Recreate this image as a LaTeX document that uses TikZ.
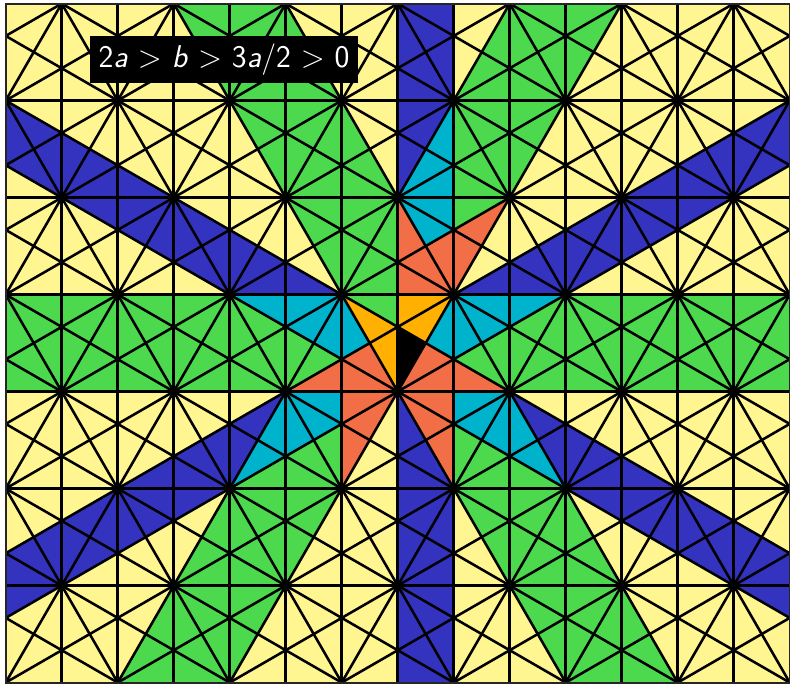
\documentclass[tikz,border=0pt]{standalone}
\usepackage{fontspec}
\usepackage{tikz}
\definecolor{cellyellow}{RGB}{255,245,145}
\definecolor{cellgreen}{RGB}{77,217,77}
\definecolor{cellblue}{RGB}{51,51,191}
\definecolor{cellcyan}{RGB}{0,179,204}
\definecolor{cellred}{RGB}{242,110,70}
\definecolor{cellorange}{RGB}{255,176,0}
\tikzset{
  celledge/.style={black, line width=1.3pt},
  cellframe/.style={draw=black!85, line width=1pt},
  celltag/.style={fill=black, text=white, inner sep=0pt,
    minimum width=4.78cm, minimum height=0.85cm,
    font=\sffamily\fontsize{16}{19}\selectfont},
}

\begin{document}
\begin{tikzpicture}[x=1cm, y=1.7320508cm]
  \useasboundingbox (-7.102,-3.024) rectangle (7.005,4.037);
  \begin{scope}
  \clip (-7,-3) rectangle (7,4);
  \fill[cellyellow] (-7,-3) rectangle (7,4);
  % blue strips and bands
  \fill[cellblue] (0,4) -- (1,4) -- (1,3) -- (0,2) -- cycle;
  \fill[cellblue] (0,0) -- (1,-1) -- (1,-3) -- (0,-3) -- cycle;
  \fill[cellblue] (-7,3) -- (-1,1) -- (-3,1) -- (-7,7/3) -- cycle;
  \fill[cellblue] (7,3) -- (1,1) -- (3,1) -- (7,7/3) -- cycle;
  \fill[cellblue] (-7,-5/3) -- (-2,0) -- (-3,-1) -- (-7,-7/3) -- cycle;
  \fill[cellblue] (7,-5/3) -- (2,0) -- (3,-1) -- (7,-7/3) -- cycle;
  % green wedges and bands
  \fill[cellgreen] (-4,4) -- (-2,4) -- (0,2) -- (0,2/3) -- (-1,1) -- cycle;
  \fill[cellgreen] (2,4) -- (4,4) -- (2,2) -- (1,5/3) -- (1,3) -- cycle;
  \fill[cellgreen] (-7,1) -- (-3,1) -- (-2,2/3) -- (-1,1/3) -- (-2,0) -- (-7,0) -- cycle;
  \fill[cellgreen] (7,1) -- (3,1) -- (2,2/3) -- (1,1/3) -- (2,0) -- (7,0) -- cycle;
  \fill[cellgreen] (-3,-1) -- (-1,-1/3) -- (-1,-1) -- (-3,-3) -- (-5,-3) -- cycle;
  \fill[cellgreen] (3,-1) -- (1,-1/3) -- (1,-1) -- (3,-3) -- (5,-3) -- cycle;
  % cyan
  \fill[cellcyan] (0,2) -- (1,3) -- (1,5/3) -- (0.5,1.5) -- cycle;
  \fill[cellcyan] (-3,1) -- (-1,1) -- (-0.5,0.5) -- (-1,1/3) -- (-2,2/3) -- cycle;
  \fill[cellcyan] (3,1) -- (1,1) -- (0.5,0.5) -- (1,1/3) -- (2,2/3) -- cycle;
  \fill[cellcyan] (-2,0) -- (-1,0) -- (-1,-1/3) -- (-3,-1) -- cycle;
  \fill[cellcyan] (2,0) -- (1,0) -- (1,-1/3) -- (3,-1) -- cycle;
  % red
  \fill[cellred] (0,2) -- (0.5,1.5) -- (2,2) -- (1,1) -- (0,1) -- cycle;
  \fill[cellred] (-2,0) -- (-0.5,0.5) -- (0,0) -- cycle;
  \fill[cellred] (0,0) -- (0.5,0.5) -- (2,0) -- cycle;
  \fill[cellred] (-1,0) -- (0,0) -- (-1,-1) -- cycle;
  \fill[cellred] (0,0) -- (1,0) -- (1,-1) -- cycle;
  % orange and the black alcove
  \fill[cellorange] (-1,1) -- (0,2/3) -- (0,0) -- cycle;
  \fill[cellorange] (0,1) -- (1,1) -- (0.5,0.5) -- (0,2/3) -- cycle;
  \fill[black] (0,0) -- (0,2/3) -- (0.5,0.5) -- cycle;
  % vertical walls
  \draw[celledge] (-6,-3) -- (-6,4);
  \draw[celledge] (-5,-3) -- (-5,4);
  \draw[celledge] (-4,-3) -- (-4,4);
  \draw[celledge] (-3,-3) -- (-3,4);
  \draw[celledge] (-2,-3) -- (-2,4);
  \draw[celledge] (-1,-3) -- (-1,4);
  \draw[celledge] (0,-3) -- (0,4);
  \draw[celledge] (1,-3) -- (1,4);
  \draw[celledge] (2,-3) -- (2,4);
  \draw[celledge] (3,-3) -- (3,4);
  \draw[celledge] (4,-3) -- (4,4);
  \draw[celledge] (5,-3) -- (5,4);
  \draw[celledge] (6,-3) -- (6,4);
  % horizontal walls
  \draw[celledge] (-7,-2) -- (7,-2);
  \draw[celledge] (-7,-1) -- (7,-1);
  \draw[celledge] (-7,0) -- (7,0);
  \draw[celledge] (-7,1) -- (7,1);
  \draw[celledge] (-7,2) -- (7,2);
  \draw[celledge] (-7,3) -- (7,3);
  % steep walls
  \draw[celledge] (-13,-3) -- (-6,4);
  \draw[celledge] (-11,-3) -- (-4,4);
  \draw[celledge] (-9,-3) -- (-2,4);
  \draw[celledge] (-7,-3) -- (0,4);
  \draw[celledge] (-5,-3) -- (2,4);
  \draw[celledge] (-3,-3) -- (4,4);
  \draw[celledge] (-1,-3) -- (6,4);
  \draw[celledge] (1,-3) -- (8,4);
  \draw[celledge] (3,-3) -- (10,4);
  \draw[celledge] (5,-3) -- (12,4);
  \draw[celledge] (-5,-3) -- (-12,4);
  \draw[celledge] (-3,-3) -- (-10,4);
  \draw[celledge] (-1,-3) -- (-8,4);
  \draw[celledge] (1,-3) -- (-6,4);
  \draw[celledge] (3,-3) -- (-4,4);
  \draw[celledge] (5,-3) -- (-2,4);
  \draw[celledge] (7,-3) -- (0,4);
  \draw[celledge] (9,-3) -- (2,4);
  \draw[celledge] (11,-3) -- (4,4);
  \draw[celledge] (13,-3) -- (6,4);
  % shallow walls
  \draw[celledge] (-7,-7) -- (7,-7/3);
  \draw[celledge] (-7,-19/3) -- (7,-5/3);
  \draw[celledge] (-7,-17/3) -- (7,-1);
  \draw[celledge] (-7,-5) -- (7,-1/3);
  \draw[celledge] (-7,-13/3) -- (7,1/3);
  \draw[celledge] (-7,-11/3) -- (7,1);
  \draw[celledge] (-7,-3) -- (7,5/3);
  \draw[celledge] (-7,-7/3) -- (7,7/3);
  \draw[celledge] (-7,-5/3) -- (7,3);
  \draw[celledge] (-7,-1) -- (7,11/3);
  \draw[celledge] (-7,-1/3) -- (7,13/3);
  \draw[celledge] (-7,1/3) -- (7,5);
  \draw[celledge] (-7,1) -- (7,17/3);
  \draw[celledge] (-7,5/3) -- (7,19/3);
  \draw[celledge] (-7,7/3) -- (7,7);
  \draw[celledge] (-7,3) -- (7,23/3);
  \draw[celledge] (-7,11/3) -- (7,25/3);
  \draw[celledge] (-7,-7/3) -- (7,-7);
  \draw[celledge] (-7,-5/3) -- (7,-19/3);
  \draw[celledge] (-7,-1) -- (7,-17/3);
  \draw[celledge] (-7,-1/3) -- (7,-5);
  \draw[celledge] (-7,1/3) -- (7,-13/3);
  \draw[celledge] (-7,1) -- (7,-11/3);
  \draw[celledge] (-7,5/3) -- (7,-3);
  \draw[celledge] (-7,7/3) -- (7,-7/3);
  \draw[celledge] (-7,3) -- (7,-5/3);
  \draw[celledge] (-7,11/3) -- (7,-1);
  \draw[celledge] (-7,13/3) -- (7,-1/3);
  \draw[celledge] (-7,5) -- (7,1/3);
  \draw[celledge] (-7,17/3) -- (7,1);
  \draw[celledge] (-7,19/3) -- (7,5/3);
  \draw[celledge] (-7,7) -- (7,7/3);
  \draw[celledge] (-7,23/3) -- (7,3);
  \draw[celledge] (-7,25/3) -- (7,11/3);
  \end{scope}
  \draw[cellframe] (-7,-3) rectangle (7,4);
  \node[celltag] (regime) at (-3.1,3.425) {2\textit{a} > \textit{b} > 3\textit{a}/2 > 0};
\end{tikzpicture}
\end{document}
